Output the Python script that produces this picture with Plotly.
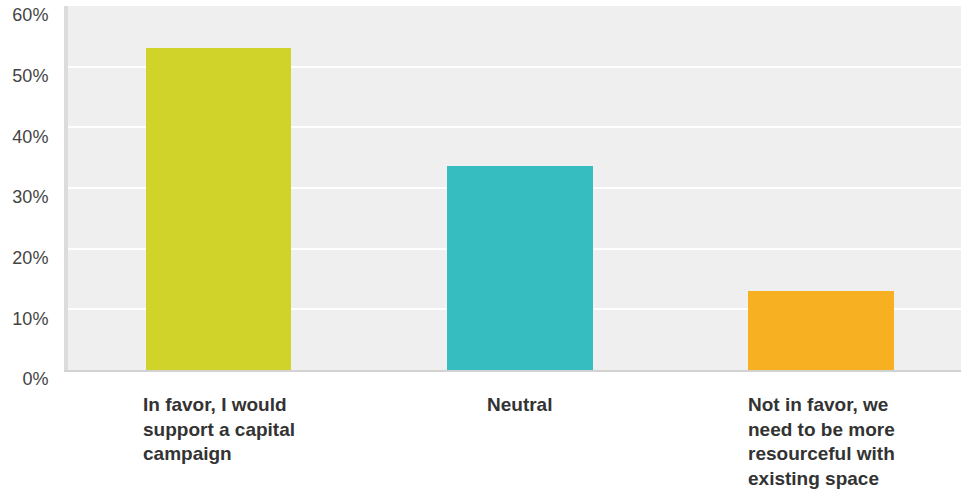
import plotly.graph_objects as go

categories = [
    "In favor, I would support a capital campaign",
    "Neutral",
    "Not in favor, we need to be more resourceful with existing space",
]
category_labels = [
    "In favor, I would<br>support a capital<br>campaign",
    "Neutral",
    "Not in favor, we<br>need to be more<br>resourceful with<br>existing space",
]
values = [53.1, 33.6, 13.1]
bar_colors = ["#d0d42a", "#35bdbf", "#f6b021"]
y_tickvals = [0, 10, 20, 30, 40, 50, 60]
y_ticktext = ["0%", "10%", "20%", "30%", "40%", "50%", "60%"]

fig = go.Figure()
fig.add_trace(go.Bar(
    x=categories,
    y=values,
    marker=dict(color=bar_colors, line=dict(width=0)),
    width=0.483,
    hoverinfo="skip",
))

for cat, lab in zip(categories, category_labels):
    fig.add_annotation(
        x=cat, xref="x", y=0, yref="paper",
        text="<b>" + lab + "</b>",
        showarrow=False, xanchor="center", yanchor="top", align="left",
        yshift=-22,
        font=dict(family="Liberation Sans, Arial, sans-serif", size=19, color="#333333"),
    )

fig.update_layout(
    width=961, height=491,
    margin=dict(l=68, r=0, t=6, b=121),
    paper_bgcolor="#ffffff",
    plot_bgcolor="#efefef",
    showlegend=False,
    bargap=0,
    font=dict(family="Liberation Sans, Arial, sans-serif"),
)
fig.update_xaxes(
    type="category",
    range=[-0.5, 2.464],
    showticklabels=False,
    showgrid=False,
    showline=True, linecolor="#d2d2d2", linewidth=2,
    zeroline=False,
    fixedrange=True,
)
fig.update_yaxes(
    range=[0, 60],
    tickvals=y_tickvals,
    ticktext=y_ticktext,
    tickfont=dict(family="Liberation Sans, Arial, sans-serif", size=18, color="#444444"),
    showgrid=True, gridcolor="#ffffff", gridwidth=2,
    showline=True, linecolor="#dcdcdc", linewidth=4,
    zeroline=False,
    ticks="",
    ticklabelstandoff=12,
    ticklabelshift=9,
    fixedrange=True,
)

fig.write_html(
    "out.html",
    config={"displayModeBar": False},
    post_script="document.body.style.margin='0px';document.body.style.overflow='hidden';",
)
